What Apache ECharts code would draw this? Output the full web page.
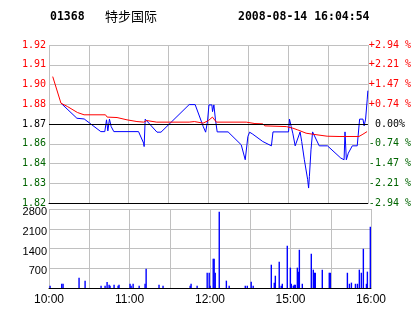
<!DOCTYPE html>
<html><head><meta charset="utf-8">
<script src="https://cdn.jsdelivr.net/npm/echarts@6/dist/echarts.min.js"></script>
<style>html,body{margin:0;padding:0;background:#fff}#c{width:414px;height:314px}</style>
</head><body><div id="c"></div>
<script>
const stockCode = '01368';
const stockName = '特步国际';
const timestamp = '2008-08-14 16:04:54';
const prevClose = 1.87;
const priceAxisMin = 1.815, priceAxisMax = 1.925, priceAxisStep = 0.01375;
const priceTickLabels = ['1.82','1.83','1.84','1.86','1.87','1.88','1.90','1.91','1.92'];
const pctTickLabels = ['-2.94 %','-2.21 %','-1.47 %','-0.74 %',' 0.00%','+0.74 %','+1.47 %','+2.21 %','+2.94 %'];
const volTickLabels = ['', '700', '1400', '2100', '2800'];
const timeTickLabels = ['10:00', '', '11:00', '', '12:00', '', '15:00', '', '16:00'];

// minutes of trading since 10:00 (0..240)
const priceMinutes = [9, 21, 26.5, 39, 42, 43.3, 44.3, 45.5, 46.8, 48.8, 67.4, 71.2, 71.6, 72.4, 73.6, 81.3, 84.3,
  105.5, 110, 116.1, 117.9, 119.3, 120.4, 122.6, 123.1, 124.1, 125.3, 126.6, 134.8, 144.7, 147.7, 149.7, 151, 153.4,
  160.9, 167.4, 168.6, 180.3, 181, 182.3, 183.5, 185.3, 186.5, 189, 190.2, 192.2, 194.7, 195.4, 196, 197.2, 198.4,
  203.4, 209.6, 219.6, 222.1, 222.8, 223.8, 225.3, 228.3, 232, 233.8, 236.3, 237.2, 238.3, 239.5, 240];
const priceValues = [1.8845, 1.874, 1.8735, 1.8647, 1.8647, 1.8729, 1.8652, 1.8734, 1.8682, 1.8647, 1.8647, 1.8567, 1.8543, 1.8734, 1.8729, 1.8643, 1.8643,
  1.8835, 1.8835, 1.8682, 1.8643, 1.8717, 1.8833, 1.8833, 1.8786, 1.8833, 1.8729, 1.8645, 1.8645, 1.8555, 1.8451, 1.8613, 1.8643, 1.8629,
  1.8578, 1.8548, 1.8645, 1.8645, 1.8734, 1.8682, 1.8636, 1.8548, 1.8548, 1.8645, 1.8578, 1.8451, 1.8312, 1.8254, 1.8335, 1.852, 1.8645,
  1.8548, 1.8548, 1.8463, 1.8451, 1.8645, 1.8451, 1.8497, 1.8548, 1.8548, 1.8734, 1.8734, 1.8687, 1.8734, 1.8868, 1.8932];

const avgMinutes = [2.8, 9, 14, 21.4, 26.4, 42.5, 43.8, 51.2, 58.7, 66.2, 71.2, 73.6, 81.1, 105.5, 109.4, 116, 120, 123, 126,
  148.5, 149.7, 155, 160.9, 162.4, 178.6, 183.5, 187.2, 193.5, 198.4, 209.4, 218.3, 233.3, 236.3, 239.4];
const avgValues = [1.903, 1.8845, 1.8821, 1.878, 1.8764, 1.8764, 1.8748, 1.8745, 1.8729, 1.8717, 1.8713, 1.8724, 1.8713, 1.8713, 1.8717, 1.8706, 1.8724, 1.8748, 1.8713,
  1.8713, 1.8706, 1.8703, 1.8701, 1.8687, 1.8682, 1.8671, 1.8659, 1.8636, 1.8629, 1.8615, 1.8613, 1.8613, 1.8629, 1.8647];

const volMinutes = [0.8, 9.5, 10.5, 22.4, 26.9, 38.8, 41.8, 43.3, 44.8, 45.5, 48.5, 51.5, 52.2, 60.4, 61.2, 62.7, 67.2, 71.6, 72.4,
  82, 85, 105.2, 105.9, 110.4, 117.9, 119.4, 120.1, 122.4, 123.1, 123.9, 126.9, 132.2, 134.3, 146.3, 147.8, 150.7, 152.2,
  165.7, 167.9, 168.7, 171.6, 173.1, 173.9, 177.6, 179.9, 180.6, 182.1, 182.8, 183.6, 185.1, 185.8, 186.6, 188.8,
  195.5, 197, 197.8, 198.5, 203.7, 208.9, 209.7, 222.4, 223.9, 225.4, 228.4, 229.9, 231.3, 232.8, 234.3, 236.6, 237.3, 239.5];
const volValues = [80, 150, 150, 365, 260, 80, 80, 210, 115, 80, 115, 80, 115, 150, 80, 150, 80, 150, 685,
  115, 80, 80, 150, 80, 540, 540, 80, 1040, 1040, 540, 2700, 260, 80, 80, 80, 225, 80,
  825, 190, 435, 930, 80, 150, 1500, 720, 150, 80, 115, 115, 720, 580, 1355, 150,
  1215, 650, 540, 540, 650, 540, 540, 540, 150, 190, 150, 150, 650, 540, 1390, 150, 580, 2170];

const pairs = (xs, ys) => xs.map((x, i) => [x, ys[i]]);
const priceIdx = v => Math.round((v - priceAxisMin) / priceAxisStep);
const signColor = v => {
  const d = v - prevClose;
  if (Math.abs(d) < 1e-6) return '#000000';
  return d > 0 ? '#ff0000' : '#006400';
};
const gridGray = '#c0c0c0';
const monoFont = 'DejaVu Sans Mono';

const chart = echarts.init(document.getElementById('c'), null, {renderer: 'canvas'});
chart.setOption({
  animation: false,
  backgroundColor: '#ffffff',
  graphic: [
    {type: 'text', x: 50, y: 17, style: {text: stockCode, font: 'bold 11.5px "DejaVu Sans Mono"', fill: '#000', verticalAlign: 'middle'}},
    {type: 'text', x: 105, y: 16, style: {text: stockName, font: '13px "Noto Sans CJK SC"', fill: '#000', verticalAlign: 'middle'}},
    {type: 'text', x: 238, y: 17, style: {text: timestamp, font: 'bold 11.5px "DejaVu Sans Mono"', fill: '#000', verticalAlign: 'middle'}}
  ],
  grid: [
    {left: 49, right: 43, top: 45, height: 158},
    {left: 49, right: 43, top: 209, height: 79}
  ],
  xAxis: [
    {gridIndex: 0, type: 'value', min: 0, max: 240, interval: 30,
      axisLabel: {show: false}, axisTick: {show: false},
      axisLine: {show: true, lineStyle: {color: '#000', width: 1}},
      splitLine: {show: true, lineStyle: {color: gridGray, width: 1}}},
    {gridIndex: 1, type: 'value', min: 0, max: 240, interval: 30,
      axisTick: {show: false},
      axisLine: {show: true, lineStyle: {color: '#000', width: 1}},
      splitLine: {show: true, lineStyle: {color: gridGray, width: 1}},
      axisLabel: {show: true, margin: 6, color: '#000', fontSize: 12, fontFamily: '"Liberation Sans Narrow", "Liberation Sans", Arial',
        formatter: v => timeTickLabels[Math.round(v / 30)] || '', showMinLabel: true, showMaxLabel: true, hideOverlap: false}}
  ],
  yAxis: [
    {gridIndex: 0, type: 'value', min: priceAxisMin, max: priceAxisMax, interval: priceAxisStep,
      axisLine: {show: false}, axisTick: {show: false},
      splitLine: {show: true, lineStyle: {color: gridGray, width: 1}},
      axisLabel: {margin: 3, fontSize: 10, fontFamily: monoFont, showMinLabel: true, showMaxLabel: true,
        formatter: v => priceTickLabels[priceIdx(v)] || '',
        color: v => signColor(priceAxisMin + priceIdx(v) * priceAxisStep)}},
    {gridIndex: 0, type: 'value', position: 'right', min: priceAxisMin, max: priceAxisMax, interval: priceAxisStep,
      axisLine: {show: false}, axisTick: {show: false}, splitLine: {show: false},
      axisLabel: {margin: 1, fontSize: 10, fontFamily: monoFont, align: 'left', showMinLabel: true, showMaxLabel: true,
        formatter: v => pctTickLabels[priceIdx(v)] || '',
        color: v => signColor(priceAxisMin + priceIdx(v) * priceAxisStep)}},
    {gridIndex: 1, type: 'value', min: 0, max: 2800, interval: 700,
      axisLine: {show: false}, axisTick: {show: false},
      splitLine: {show: true, lineStyle: {color: gridGray, width: 1}},
      axisLabel: {margin: 2, color: '#000', fontSize: 11, fontFamily: '"Liberation Sans Narrow", "Liberation Sans", Arial',
        verticalAlign: 'top', lineHeight: 6, showMaxLabel: true,
        formatter: v => volTickLabels[Math.round(v / 700)] || ''}}
  ],
  series: [
    {type: 'line', xAxisIndex: 0, yAxisIndex: 0, data: pairs(priceMinutes, priceValues),
      showSymbol: false, symbol: 'none', lineStyle: {color: '#0000ff', width: 1}, z: 3,
      markLine: {silent: true, symbol: 'none', label: {show: false},
        lineStyle: {color: '#000', width: 1, type: 'solid'}, data: [{yAxis: prevClose}]}},
    {type: 'line', xAxisIndex: 0, yAxisIndex: 0, data: pairs(avgMinutes, avgValues),
      showSymbol: false, symbol: 'none', lineStyle: {color: '#ff0000', width: 1}, z: 4},
    {type: 'bar', xAxisIndex: 1, yAxisIndex: 2, data: pairs(volMinutes, volValues),
      barWidth: 1.4, itemStyle: {color: '#0000ff'}}
  ]
});
</script>
</body></html>
